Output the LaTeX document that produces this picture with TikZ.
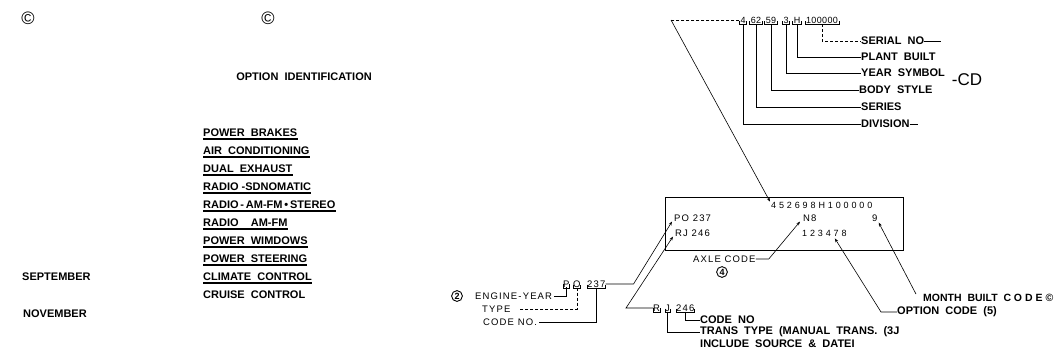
\documentclass[tikz,border=0pt]{standalone}
\usepackage{fontspec}
\setmainfont{Liberation Sans}
\newfontfamily\platefont[LetterSpace=32]{Liberation Sans}
\newfontfamily\tagfont[LetterSpace=12]{Liberation Sans}
\newfontfamily\serialfont[LetterSpace=4]{Liberation Sans}
\usetikzlibrary{arrows.meta}

\tikzset{
    lbl/.style={font=\fontsize{11}{12}\selectfont\bfseries, inner sep=0pt, anchor=west},
    plt/.style={font=\platefont\fontsize{9}{11}\selectfont, inner sep=0pt, anchor=west},
    tag/.style={font=\tagfont\fontsize{9.5}{11}\selectfont, inner sep=0pt, anchor=west},
    seg/.style={font=\serialfont\fontsize{9}{10}\selectfont, inner sep=1pt},
    ring/.style={draw, circle, line width=0.9pt, inner sep=1pt, font=\fontsize{9}{10}\selectfont\bfseries},
    lead/.style={line width=0.6pt},
    tip/.style={-{Stealth[length=4pt,width=3pt]}},
}

\begin{document}
\begin{tikzpicture}[x=1pt,y=-1pt]
        \useasboundingbox (0,0) rectangle (1062,354);

        % ===============================
        % Lado izquierdo
        % ===============================
        \node[font=\fontsize{18}{19}\selectfont] (c1) at (28,18) {\textcopyright};
        \node[font=\fontsize{18}{19}\selectfont] (c2) at (268,18) {\textcopyright};

        \node[lbl, anchor=center] (title) at (304,77) {OPTION\ \ IDENTIFICATION};

        % Opciones subrayadas
        \foreach \txt [count=\i] in {POWER\ \ BRAKES, AIR\ \ CONDITIONING, DUAL\ \ EXHAUST,
                RADIO\ -SDNOMATIC, RADIO\,-\,AM-FM\,\textbullet\,STEREO, RADIO\ \ \ \ AM-FM,
                POWER\ \ WIMDOWS, POWER\ \ STEERING, CLIMATE\ \ CONTROL}{
                \node[lbl] (opt\i) at (203,{115+18*\i}) {\txt};
                \draw[line width=1.5pt] ([yshift=-2pt]opt\i.south west) -- ([yshift=-2pt]opt\i.south east);
            }
        \node[lbl] (opt10) at (203,295) {CRUISE\ \ CONTROL};

        \node[lbl] (sep) at (22,277) {SEPTEMBER};
        \node[lbl] (nov) at (23,314) {NOVEMBER};

        % ===============================
        % Numero de serie (arriba)
        % ===============================
        \node[seg] (s4)   at (743,20) {4};
        \node[seg] (s62)  at (756,20) {62};
        \node[seg] (s59)  at (771,20) {59};
        \node[seg] (s3)   at (786,20) {3};
        \node[seg] (sH)   at (797,20) {H};
        \node[seg] (s100) at (822,20) {100000};
        \foreach \n in {s4,s62,s59,s3,sH,s100}{
                \draw[lead] ([yshift=3pt]\n.south west) |- (\n.south east) -- ([yshift=3pt]\n.south east);
            }

        \node[lbl] (serial) at (861,41)  {SERIAL\ \ NO};
        \node[lbl] (plant)  at (861,57)  {PLANT\ \ BUILT};
        \node[lbl] (year)   at (861,73)  {YEAR\ \ SYMBOL};
        \node[lbl] (body)   at (859,90)  {BODY\ \ STYLE};
        \node[lbl] (series) at (861,107) {SERIES};
        \node[lbl] (div)    at (861,124) {DIVISION};
        \node[font=\fontsize{17}{18}\selectfont, inner sep=0pt] (cd) at (967,80) {-CD};

        \draw[lead, densely dashed] (s100.south) |- (serial.west);
        \draw[lead] (sH.south) |- (plant.west);
        \draw[lead] (s3.south) |- (year.west);
        \draw[lead] (s59.south) |- (body.west);
        \draw[lead] (s62.south) |- (series.west);
        \draw[lead] (s4.south) |- (div.west);
        \draw[line width=1pt] (serial.east) -- ++(17,0);
        \draw[line width=1pt] (div.east) -- ++(8,0);

        % ===============================
        % Placa
        % ===============================
        \node[draw, line width=0.8pt, minimum width=238pt, minimum height=53pt, inner sep=0pt] (plate) at (784,223.5) {};
        \node[plt] (pserial) at (771,205) {452698H100000};
        \node[tag] (ppo)     at (674,218) {PO 237};
        \node[tag] (prj)     at (675,233) {RJ 246};
        \node[tag] (pn8)     at (803,218) {N8};
        \node[plt] (popt)    at (802,233) {123478};
        \node[tag] (pmonth)  at (872,218) {9};

        \coordinate (bend) at (671,20);
        \draw[lead, densely dashed] (s4.west) -- (bend);
        \draw[lead, tip] (bend) -- ([xshift=-1pt]pserial.north west);

        % Codigo de eje
        \node[tag] (axle) at (693,259) {AXLE CODE};
        \node[ring] (n4) at (722,272) {4};
        \draw[lead, tip] (axle.east) -- ([xshift=13pt]axle.east) -- ([xshift=-3pt]pn8.south west);

        % Codigo de opcion
        \node[lbl] (optcode) at (897,312) {OPTION\ \ CODE\ \ (5)};
        \draw[lead, tip] (optcode.west) -- ([xshift=-16pt]optcode.west) -- ([xshift=-12pt,yshift=-2pt]popt.south east);

        % Mes de fabricacion
        \node[lbl, font=\fontsize{10.5}{12}\selectfont\bfseries] (month) at (923,298) {MONTH\ \ BUILT\ \ C O D E \textcopyright};
        \draw[lead, tip] ([xshift=-7pt]month.north west) -- ([xshift=1pt,yshift=-1pt]pmonth.south east);

        % ===============================
        % Motor: P.O. 237
        % ===============================
        \node[tag] (lp)   at (563,284) {P};
        \node[tag] (lo)   at (573,284) {O};
        \node[tag] (l237) at (587,284) {237};
        \foreach \n in {lp,lo,l237}{
                \draw[lead] ([yshift=3pt]\n.south west) |- ([yshift=-1pt]\n.south east) -- ([yshift=3pt]\n.south east);
            }

        \node[ring] (n2) at (457,296) {2};
        \node[tag] (engine) at (475,296) {ENGINE-YEAR};
        \node[tag] (type)   at (482,309) {TYPE};
        \node[tag] (codeno) at (483,322) {CODE NO.};

        \draw[lead] (lp.south) |- ([xshift=2pt]engine.east);
        \draw[lead, densely dashed] (lo.south) |- ([xshift=8pt]type.east);
        \draw[lead] (l237.south) |- ([xshift=2pt]codeno.east);
        \draw[lead, tip] (l237.east) -- ++(28,0) -- ([xshift=-2pt]ppo.south west);

        % ===============================
        % Transmision: R J 246
        % ===============================
        \node[tag] (lr)   at (653,308) {R};
        \node[tag] (lj)   at (665,308) {J};
        \node[tag] (l246) at (676,308) {246};
        \foreach \n in {lr,lj,l246}{
                \draw[lead] ([yshift=3pt]\n.south west) |- ([yshift=-1pt]\n.south east) -- ([yshift=3pt]\n.south east);
            }

        \node[lbl] (code2) at (700,320) {CODE\ \ NO};
        \node[lbl] (trans) at (700,332) {TRANS\ \ TYPE\ \ (MANUAL\ \ TRANS.\ \ (3J};
        \node[lbl] (incl)  at (700,344) {INCLUDE\ \ SOURCE\ \ \&\ \ DATEI};

        \draw[lead] (l246.south) |- (code2.west);
        \draw[lead] (lj.south) |- (trans.west);
        \draw[lead, tip] (lr.west) -- ++(-27,0) -- ([xshift=-2pt]prj.south west);

    \end{tikzpicture}
\end{document}
